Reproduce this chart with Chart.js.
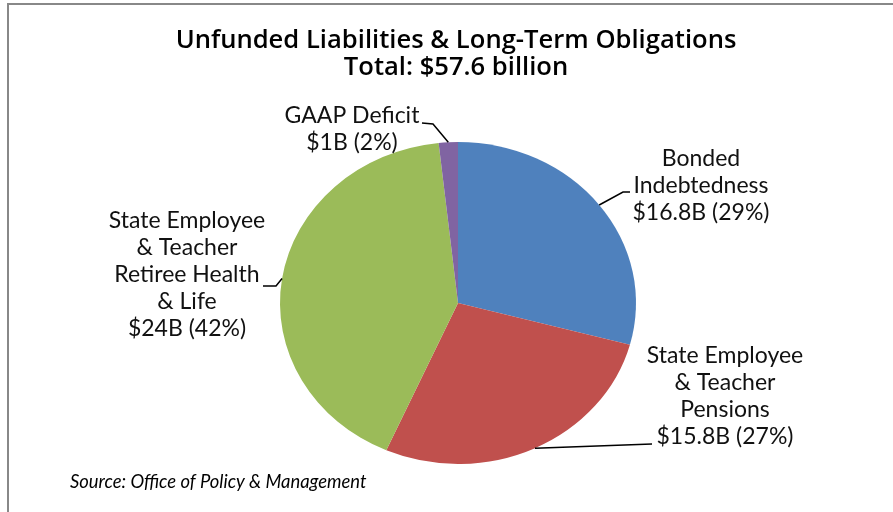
<!DOCTYPE html>
<html><head><meta charset="utf-8">
<script src="https://cdn.jsdelivr.net/npm/chart.js@4.4.1/dist/chart.umd.min.js"></script>
<style>
html,body{margin:0;padding:0;background:#fff;overflow:hidden}
#wrap{position:relative;width:893px;height:512px}
#frame{position:absolute;left:7px;top:3px;right:-4px;bottom:-4px;border-top:2px solid #888;border-left:2px solid #888;pointer-events:none}
</style></head>
<body><div id="wrap"><canvas id="c" width="893" height="512"></canvas><div id="frame"></div></div>
<script>
// ---- data ----
const categories = ["Bonded Indebtedness", "State Employee & Teacher Pensions", "State Employee & Teacher Retiree Health & Life", "GAAP Deficit"];
const values = [16.8, 15.8, 24, 1];
const valueLabels = ["$16.8B (29%)", "$15.8B (27%)", "$24B (42%)", "$1B (2%)"];
const labelLines = [["Bonded", "Indebtedness"], ["State Employee", "& Teacher", "Pensions"], ["State Employee", "& Teacher", "Retiree Health", "& Life"], ["GAAP Deficit"]];
const titleLines = ["Unfunded Liabilities & Long-Term Obligations", "Total: $57.6 billion"];
const sourceText = "Source: Office of Policy & Management";

// ---- style ----
const colors = ['#4F81BD', '#C0504D', '#9BBB59', '#8064A2'];
const xStretch = 178 / 161;
const labelFont = '400 23px Lato';
const labelLayout = [
  { cx: 701, y0: 166, lh: 27, leader: [[630, 192], [623, 192]] },
  { cx: 725, y0: 363, lh: 27, leader: [[652, 444]] },
  { cx: 187, y0: 228, lh: 27, leader: [[263, 286], [276, 286]] },
  { cx: 352, y0: 123, lh: 27, leader: [[422, 123], [433, 124]] }
];

const stretchPlugin = {
  id: 'stretch',
  beforeDatasetsDraw(chart) {
    const a = chart.chartArea, ctx = chart.ctx;
    const cx = (a.left + a.right) / 2, cy = (a.top + a.bottom) / 2;
    ctx.save();
    ctx.translate(cx, cy); ctx.scale(xStretch, 1); ctx.translate(-cx, -cy);
  },
  afterDatasetsDraw(chart) { chart.ctx.restore(); }
};

const textPlugin = {
  id: 'texts',
  afterDraw(chart) {
    const ctx = chart.ctx;
    ctx.save();
    // title
    ctx.fillStyle = '#000';
    ctx.textAlign = 'center';
    ctx.textBaseline = 'alphabetic';
    ctx.font = '600 25.6px "Open Sans"';
    ctx.fillText(titleLines[0], 456, 48);
    ctx.fillText(titleLines[1], 456, 75);
    // source
    ctx.textAlign = 'left';
    ctx.font = 'italic 400 18.4px Lato';
    ctx.fillText(sourceText, 70, 488);
    // labels + leaders
    const meta = chart.getDatasetMeta(0);
    meta.data.forEach((arc, i) => {
      const L = labelLayout[i];
      const lines = labelLines[i].concat([valueLabels[i]]);
      ctx.font = labelFont;
      ctx.textAlign = 'center';
      ctx.fillStyle = '#111';
      lines.forEach((t, k) => ctx.fillText(t, L.cx, L.y0 + k * L.lh));
      const mid = (arc.startAngle + arc.endAngle) / 2;
      const px = arc.x + xStretch * arc.outerRadius * Math.cos(mid);
      const py = arc.y + arc.outerRadius * Math.sin(mid);
      ctx.beginPath();
      ctx.strokeStyle = '#000';
      ctx.lineWidth = 1.5;
      ctx.moveTo(L.leader[0][0], L.leader[0][1]);
      for (let k = 1; k < L.leader.length; k++) ctx.lineTo(L.leader[k][0], L.leader[k][1]);
      ctx.lineTo(px, py);
      ctx.stroke();
    });
    ctx.restore();
  }
};

new Chart(document.getElementById('c'), {
  type: 'pie',
  data: {
    labels: categories,
    datasets: [{
      data: values,
      backgroundColor: colors,
      borderWidth: 0,
      clip: false
    }]
  },
  options: {
    responsive: false,
    animation: false,
    rotation: 0,
    layout: { padding: { top: 142, bottom: 48, left: 280, right: 257 } },
    plugins: { legend: { display: false }, tooltip: { enabled: false }, title: { display: false } }
  },
  plugins: [stretchPlugin, textPlugin]
});
</script>
</body></html>
